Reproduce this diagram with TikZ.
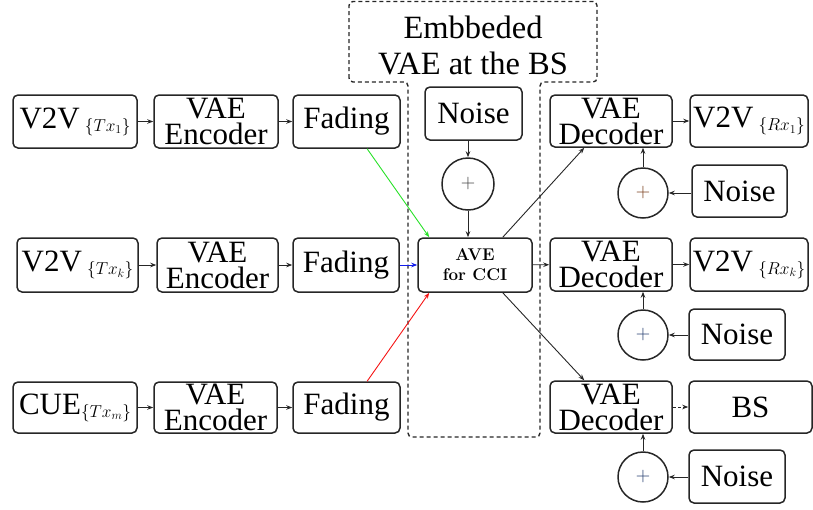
\documentclass[tikz,border=0pt]{standalone}
\usepackage{fontspec}
\newfontfamily\tnr{Liberation Serif}
\usetikzlibrary{arrows.meta,calc}

\definecolor{lgreen}{RGB}{40,225,40}
\definecolor{lred}{RGB}{245,20,20}
\definecolor{lblue}{RGB}{20,30,235}
\definecolor{plusbrown}{RGB}{120,60,25}
\definecolor{plusblue}{RGB}{35,60,110}

% small set-style subscript placed after a label
\newcommand\idx[1]{\raisebox{-3pt}{\fontsize{17.28}{18}\selectfont$\{#1\}$}}

\begin{document}
\begin{tikzpicture}[x=1pt,y=-1pt,
  blk/.style={draw=black!85, line width=1.5pt, rounded corners=5pt, inner sep=0pt,
    font=\tnr\fontsize{31}{26}\selectfont, align=center},
  sumc/.style={draw=black!85, circle, line width=1.5pt, minimum size=#1, inner sep=0pt,
    font=\fontsize{20}{20}\selectfont},
  sumc/.default=50pt,
  arr/.style={-{Stealth[length=6pt,width=4.5pt]}, line width=0.9pt, draw=black!85},
  bsline/.style={draw=black!85, line width=1.4pt, dash pattern=on 4pt off 3pt, rounded corners=4pt},
]
\useasboundingbox (0,0) rectangle (813,509);

% base-station region
\draw[bsline] (349,82) -- (349,1.5) -- (597,1.5) -- (597,82) -- (540,82) -- (540,437)
  -- (408,437) -- (408,82) -- cycle;
\node[font=\tnr\fontsize{32.5}{36}\selectfont, align=center] (bslabel) at (473,45)
  {Embbeded\\VAE at the BS};

% transmitters
\node[blk, minimum width=124pt, minimum height=53pt] (src1) at (75,121.5) {V2V\,\idx{Tx_1}};
\node[blk, minimum width=124pt, minimum height=53pt] (enc1) at (216,121.5) {VAE\\Encoder};
\node[blk, minimum width=107pt, minimum height=53pt] (fad1) at (346.5,121.5) {Fading};

\node[blk, minimum width=121pt, minimum height=54pt] (src2) at (77.5,265) {V2V\,\idx{Tx_k}};
\node[blk, minimum width=121pt, minimum height=54pt] (enc2) at (217.5,265) {VAE\\Encoder};
\node[blk, minimum width=106pt, minimum height=54pt] (fad2) at (346,265) {Fading};

\node[blk, minimum width=124pt, minimum height=51pt] (src3) at (75,407.5) {CUE\idx{Tx_m}};
\node[blk, minimum width=123pt, minimum height=51pt] (enc3) at (215.5,407.5) {VAE\\Encoder};
\node[blk, minimum width=107pt, minimum height=51pt] (fad3) at (346.5,407.5) {Fading};

% base station
\node[blk, minimum width=97pt, minimum height=53pt] (noiseC) at (473.5,113.5) {Noise};
\node[sumc=52pt, text=black!75] (plusC) at (468,184) {+};
\node[blk, minimum width=114pt, minimum height=54pt,
  font=\bfseries\fontsize{17}{20}\selectfont] (ave) at (475,265) {AVE\\for CCI};

% receivers
\node[blk, minimum width=122pt, minimum height=52pt] (dec1) at (611,121) {VAE\\Decoder};
\node[blk, minimum width=122pt, minimum height=53pt] (dec2) at (611,264.5) {VAE\\Decoder};
\node[blk, minimum width=122pt, minimum height=52pt] (dec3) at (611,407) {VAE\\Decoder};

\node[blk, minimum width=118pt, minimum height=52pt] (out1) at (749,121) {V2V\,\idx{Rx_1}};
\node[blk, minimum width=118pt, minimum height=53pt] (out2) at (749,264.5) {V2V\,\idx{Rx_k}};
\node[blk, minimum width=123pt, minimum height=52pt] (out3) at (750.5,407) {BS};

\node[sumc, text=plusbrown] (plus1) at (643,193) {+};
\node[sumc, text=plusblue] (plus2) at (643,335) {+};
\node[sumc, text=plusblue] (plus3) at (643,477) {+};

\node[blk, minimum width=95pt, minimum height=52pt] (noise1) at (739.5,191) {Noise};
\node[blk, minimum width=96pt, minimum height=51pt] (noise2) at (737,334.5) {Noise};
\node[blk, minimum width=96pt, minimum height=53pt] (noise3) at (737,476.5) {Noise};

% transmitter chains
\draw[arr] (src1) -- (enc1);
\draw[arr] (enc1) -- (fad1);
\draw[arr] (src2) -- (enc2);
\draw[arr] (enc2) -- (fad2);
\draw[arr] (src3) -- (enc3);
\draw[arr] (enc3) -- (fad3);

% channels into the interference canceller
\draw[arr, draw=lgreen] ($(fad1.south east)!0.62!(fad1.south)$) -- ($(ave.north west)+(12,0)$);
\draw[arr, draw=lblue] (fad2) -- (ave);
\draw[arr, draw=lred] ($(fad3.north east)!0.62!(fad3.north)$) -- ($(ave.south west)+(12,0)$);
\draw[arr] (noiseC.south -| plusC) -- (plusC);
\draw[arr] (plusC) -- (plusC |- ave.north);

% canceller to decoders
\draw[arr] ($(ave.north east)+(-30,0)$) -- ($(dec1.south west)+(35,0)$);
\draw[arr] (ave) -- (dec2);
\draw[arr] ($(ave.south east)+(-30,0)$) -- ($(dec3.north west)+(35,0)$);

% receiver chains
\draw[arr] (dec1) -- (out1);
\draw[arr] (dec2) -- (out2);
\draw[arr, dash pattern=on 3pt off 2pt] (dec3) -- (out3);
\draw[arr] (noise1.west |- plus1) -- (plus1);
\draw[arr] (noise2.west |- plus2) -- (plus2);
\draw[arr] (noise3.west |- plus3) -- (plus3);
\draw[arr] (plus1) -- (plus1 |- dec1.south);
\draw[arr] (plus2) -- (plus2 |- dec2.south);
\draw[arr] (plus3) -- (plus3 |- dec3.south);
\end{tikzpicture}
\end{document}
